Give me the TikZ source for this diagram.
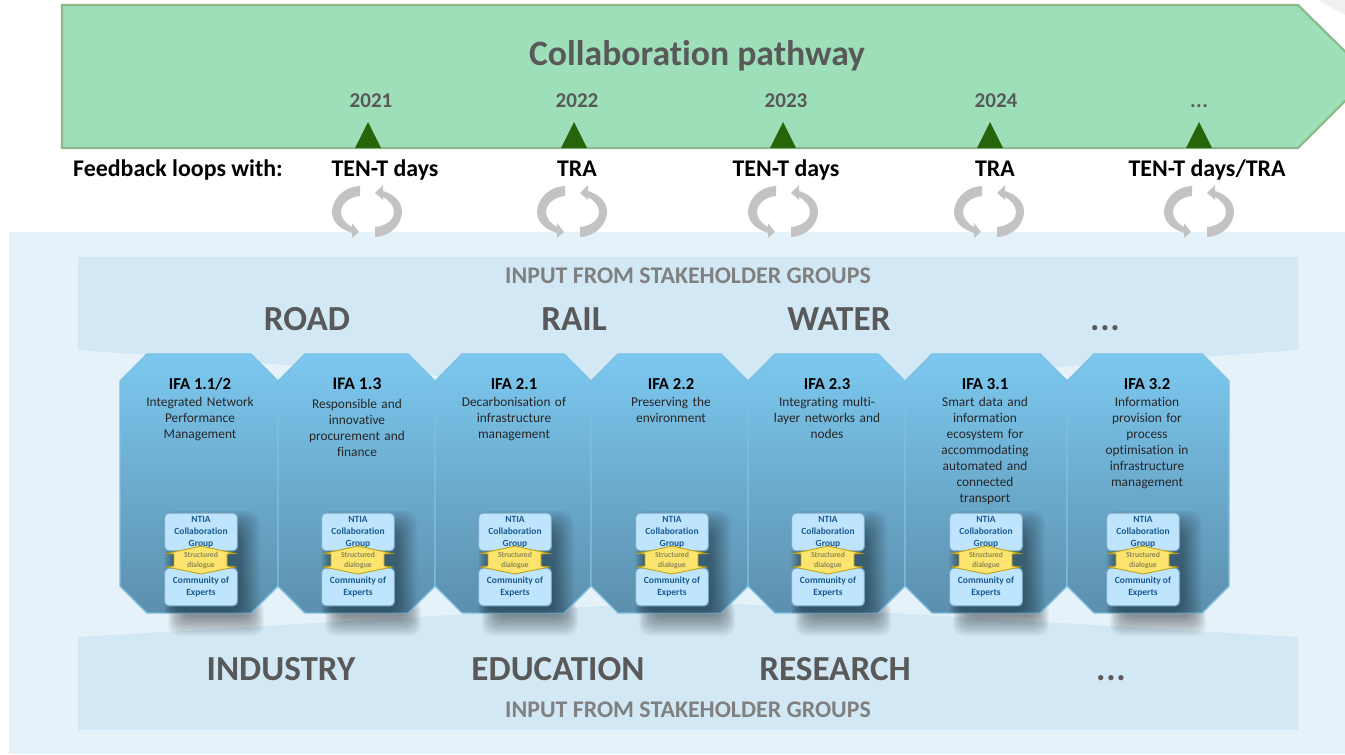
\documentclass[tikz,border=0pt]{standalone}
\usepackage{fontspec}
\setmainfont[Ligatures=NoCommon]{Carlito}
\definecolor{pathgreen}{RGB}{157,223,184}
\definecolor{pathedge}{RGB}{140,185,135}
\definecolor{markgreen}{RGB}{40,100,10}
\definecolor{panelblue}{RGB}{230,242,249}
\definecolor{bandblue}{RGB}{210,233,245}
\definecolor{ifatop}{RGB}{124,200,240}
\definecolor{ifabottom}{RGB}{92,143,173}
\definecolor{ifaedge}{RGB}{125,190,225}
\definecolor{smallfill}{RGB}{191,229,254}
\definecolor{smalledge}{RGB}{120,165,195}
\definecolor{smalltext}{RGB}{25,90,145}
\definecolor{hexfill}{RGB}{252,228,110}
\definecolor{hexedge}{RGB}{190,160,20}
\definecolor{hextext}{RGB}{140,135,90}
\definecolor{headgrey}{RGB}{89,89,89}
\definecolor{loopgrey}{RGB}{195,195,195}
\newcommand{\moredots}{.\kern0.02em.\kern0.02em.}
\tikzset{
  x=0.02cm,y=-0.02cm,
  year/.style={font=\fontsize{12}{14}\selectfont\bfseries,text=headgrey,anchor=base},
  feedback/.style={font=\fontsize{13.6}{16}\selectfont\bfseries,text=black,anchor=base},
  sector/.style={font=\fontsize{20}{24}\selectfont\bfseries,text=headgrey,anchor=base},
  inputlabel/.style={font=\fontsize{13.6}{16}\selectfont\bfseries,text=gray,anchor=base},
  ifatext/.style={font=\fontsize{7.6}{9.1}\selectfont,text=black!85,align=center,text width=80pt,anchor=north},
  smallbox/.style={draw=smalledge,line width=0.6pt,fill=smallfill,rounded corners=2.5pt,minimum width=41.5pt,minimum height=21.5pt,inner sep=0pt,
    font=\fontsize{5.4}{6.8}\selectfont\bfseries,text=smalltext,align=center},
}
\begin{document}
\begin{tikzpicture}
  \path[use as bounding box] (0,0) rectangle (1345,754);
  \clip (0,0) rectangle (1345,754);
  % backdrop
  \fill[black!6] (1318,0) -- (1345,0) -- (1345,15) -- cycle;
  \fill[panelblue] (9,232) rectangle (1345,754);
  \fill[bandblue] (78,257) -- (1298,257) -- (1298,350) -- (688,394) -- (78,350) -- cycle;
  \fill[bandblue] (78,637) -- (688,601) -- (1298,637) -- (1298,730) -- (78,730) -- cycle;
  % pathway arrow
  \draw[pathedge,line width=1.2pt,fill=pathgreen] (62,5) -- (1298,5) -- (1370,76) -- (1298,148) -- (62,148) -- cycle;
  \node[font=\fontsize{20.3}{24}\selectfont\bfseries,text=headgrey] (title) at (697,56) {Collaboration pathway};
  \foreach \x/\tx/\lab in {368/371/2021,574/577/2022,783/786/2023,990/996/2024,1199/1199/\moredots}{
    \fill[markgreen] (\x-13,148) -- (\x,122) -- (\x+13,148) -- cycle;
    \node[year] at (\tx,107) {\lab};
  }
  \node[feedback] (loops) at (178,176) {Feedback loops with:};
  \foreach \tx/\lab in {385/TEN-T days,577/TRA,786/TEN-T days,995/TRA,1207/{TEN-T days\slash TRA}}{
    \node[feedback] at (\tx,176) {\lab};
  }
  % loop arrows
  \foreach \x in {367,572,783,989,1199}{
    \begin{scope}[shift={(\x,212)}]
      \fill[loopgrey] (-7,-26) .. controls (-26,-25) and (-35,-10) .. (-35,0) .. controls (-35,9) and (-28,17) .. (-15,21) -- (-15,26) -- (-8,20) -- (-15,11) -- (-15,15) .. controls (-21,12) and (-26,6) .. (-26,0) .. controls (-26,-8) and (-18,-15) .. (-7,-16) -- cycle;
      \fill[loopgrey] (8,25) .. controls (26,24) and (35,10) .. (35,0) .. controls (35,-9) and (29,-17) .. (16,-21) -- (16,-27) -- (8,-19) -- (16,-12) -- (16,-15) .. controls (22,-12) and (27,-6) .. (27,0) .. controls (27,8) and (19,14) .. (8,15) -- cycle;
    \end{scope}
  }
  % sectors
  \node[inputlabel] (inputtop) at (688,283) {INPUT FROM STAKEHOLDER GROUPS};
  \node[inputlabel] (inputbottom) at (688,717) {INPUT FROM STAKEHOLDER GROUPS};
  \foreach \x/\lab in {307/ROAD,574/RAIL,839/WATER,1105/\moredots}{
    \node[sector] at (\x,330) {\lab};
  }
  \foreach \x/\lab in {281/INDUSTRY,558/EDUCATION,835/RESEARCH,1111/\moredots}{
    \node[sector] at (\x,680) {\lab};
  }
  % ground shadows of the columns
  \foreach \c in {200,357,514,671,827,985,1142}{
    \foreach \s in {0,1,...,14}{
      \fill[black,opacity=0.03,rounded corners=6pt] (\c-32+\s,600) rectangle (\c+64-\s,636-\s*1.4);
    }
  }
  % IFA columns
  \foreach \l/\r/\c/\tx/\name/\desc/\size/\ty in {
    120/278/200/200/IFA 1.1\slash 2/{Integrated Network\\Performance\\Management}/9.5/391,
    278/435/357/357/IFA 1.3/{Responsible and\\innovative\\procurement and\\finance}/10/393,
    435/591/514/514/IFA 2.1/{Decarbonisation of\\infrastructure\\management}/9.5/391,
    591/748/671/671/IFA 2.2/{Preserving the\\environment}/9.5/391,
    748/905/827/827/IFA 2.3/{Integrating multi-\\layer networks and\\nodes}/9.5/391,
    905/1067/985/985/IFA 3.1/{Smart data and\\information\\ecosystem for\\accommodating\\automated and\\connected\\transport}/9.5/391,
    1067/1229/1142/1147/IFA 3.2/{Information\\provision for\\process\\optimisation in\\infrastructure\\management}/9.5/391}{
    \shade[top color=ifatop,bottom color=ifabottom,draw=ifaedge,line width=0.8pt]
      (\l+27,354) -- (\r-27,354) -- (\r,381) -- (\r,586) -- (\r-27,613) -- (\l+27,613) -- (\l,586) -- (\l,381) -- cycle;
    \begin{scope}
      \clip (\l+27,354) -- (\r-27,354) -- (\r,381) -- (\r,586) -- (\r-27,613) -- (\l+27,613) -- (\l,586) -- (\l,381) -- cycle;
      \foreach \s in {0,1,...,20}{
        \fill[black,opacity=0.02,rounded corners=7pt] (\c-26-\s*0.5,530-\s) rectangle (\c+40+\s,612+\s);
      }
    \end{scope}
    \node[font=\fontsize{\size}{11}\selectfont\bfseries,text=black] (ifa) at (\tx,384) {\name};
    \node[ifatext] (desc) at (\tx,\ty) {\desc};
    \node[smallbox] (ntia) at (\c+1,532) {NTIA\\Collaboration\\Group};
    \node[smallbox] (coe) at (\c+1,587) {Community of\\Experts};
    \draw[hexedge,line width=0.5pt,fill=hexfill] (\c+1,546) -- (\c+35,553.5) -- (\c+27,554) -- (\c+27,566) -- (\c+35,567) -- (\c+1,574) -- (\c-33,567) -- (\c-26,566) -- (\c-26,554) -- (\c-33,553.5) -- cycle;
    \node[font=\fontsize{4.4}{5.4}\selectfont\bfseries,text=hextext,align=center,inner sep=0pt] (dialogue) at (\c+1,560.5) {Structured\\dialogue};
  }
\end{tikzpicture}
\end{document}
